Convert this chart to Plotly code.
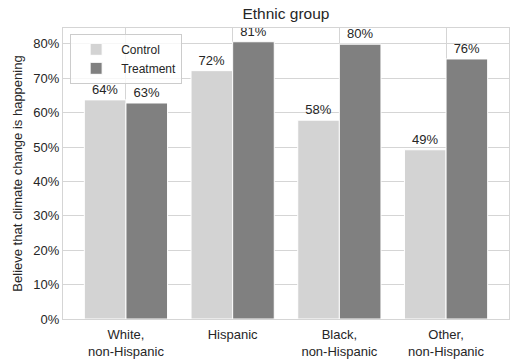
import plotly.graph_objects as go

# data
groups = ["White,<br>non-Hispanic", "Hispanic", "Black,<br>non-Hispanic", "Other,<br>non-Hispanic"]
control = [63.7, 72.2, 57.8, 49.2]
treatment = [62.8, 80.6, 79.9, 75.6]
y_ticks = [0, 10, 20, 30, 40, 50, 60, 70, 80]

txt = "#262626"
grid = "#d5d5d5"
font = "Liberation Sans, Arial, sans-serif"

fig = go.Figure()

fig.add_trace(go.Bar(
    x=groups, y=control, name="Control",
    marker=dict(color="#d3d3d3", line=dict(color="white", width=1)),
    text=[f"{v:.0f}%" for v in control],
    textposition="outside", cliponaxis=False,
    textfont=dict(size=13, color=txt),
))
fig.add_trace(go.Bar(
    x=groups, y=treatment, name="Treatment",
    marker=dict(color="#808080", line=dict(color="white", width=1)),
    text=[f"{v:.0f}%" for v in treatment],
    textposition="outside", cliponaxis=False,
    textfont=dict(size=13, color=txt),
))

fig.update_layout(
    width=519, height=364,
    margin=dict(l=63, r=10, t=28, b=45, autoexpand=False),
    paper_bgcolor="white", plot_bgcolor="white",
    font=dict(family=font, size=13, color=txt),
    title=dict(text="Ethnic group", x=0.551, xanchor="center", y=0.962, yanchor="middle",
               font=dict(size=15.5, color=txt)),
    barmode="group", bargap=0.22, bargroupgap=0,
    legend=dict(
        x=0.016, y=0.98, xanchor="left", yanchor="top",
        bgcolor="rgba(255,255,255,0.8)", bordercolor="#cccccc", borderwidth=1,
        font=dict(size=12, color=txt), tracegroupgap=0, itemwidth=40,
    ),
    xaxis=dict(
        range=[-0.59, 3.59],
        showgrid=True, gridcolor=grid, gridwidth=1,
        showline=True, linecolor=grid, linewidth=1, mirror=True,
        ticks="", tickfont=dict(size=13, color=txt), ticklabelstandoff=3,
    ),
    yaxis=dict(
        range=[0, 84.6],
        tickvals=y_ticks, ticktext=[f"{t}%" for t in y_ticks],
        showgrid=True, gridcolor=grid, gridwidth=1, zeroline=False,
        showline=True, linecolor=grid, linewidth=1, mirror=True,
        ticks="", tickfont=dict(size=13, color=txt),
        title=dict(text="Believe that climate change is happening",
                   font=dict(size=13, color=txt), standoff=7),
    ),
)

# page body has a default 8px margin; drop it so the figure fills the window
fig.write_html("out.html", config={"displayModeBar": False},
               post_script="document.body.style.margin='0';")
